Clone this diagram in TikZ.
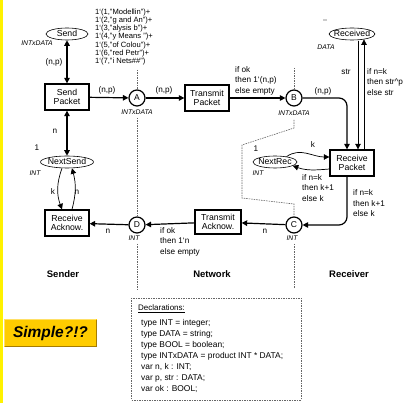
\documentclass[tikz,border=0pt]{standalone}
\usepackage{fontspec}
\setmainfont{Liberation Sans}
\usetikzlibrary{arrows.meta,shapes.geometric,calc}
\newcommand{\fsz}[2]{\fontsize{#1}{#2}\selectfont}
\definecolor{gold}{HTML}{FFCC00}
\definecolor{goldlight}{HTML}{FFE066}
\definecolor{golddark}{HTML}{A67C00}
\tikzset{
  trans/.style={draw, line width=1.3pt, minimum width=44pt, minimum height=26pt, inner sep=1pt, align=center, font=\fsz{8.7}{9.7}},
  place/.style={circle, draw, line width=1.2pt, minimum size=16pt, inner sep=0pt, font=\fsz{8.5}{9}},
  oval/.style={ellipse, draw, line width=0.6pt, inner sep=0pt, minimum height=12pt, text height=5pt, text depth=0pt, font=\fsz{8.7}{9.7}},
  arc/.style={line width=1.2pt, -{Triangle[length=5.5pt,width=5.5pt]}},
  darc/.style={line width=1.2pt, {Triangle[length=5.5pt,width=5.5pt]}-{Triangle[length=5.5pt,width=5.5pt]}},
  tarc/.style={line width=0.7pt, -{Triangle[length=5.5pt,width=5.5pt]}},
  lbl/.style={font=\fsz{8.2}{10.5}, inner sep=0pt, align=left},
  typ/.style={font=\itshape\fsz{6.8}{7.5}, inner sep=0pt},
  divider/.style={gray!80!black, line width=0.6pt, dash pattern=on 1.5pt off 1pt},
  sect/.style={font=\bfseries\fsz{9.5}{10.5}, inner sep=0pt},
}
\begin{document}
\begin{tikzpicture}[x=1pt,y=-1pt]
\useasboundingbox (0,0) rectangle (416,403);
\fill[white] (0,0) rectangle (416,403);
\fill[yellow] (0,0) rectangle (3,403);

% places and transitions
\node[oval, minimum width=42pt] (Send) at (67,34) {\makebox[10pt]{Send}};
\node[trans] (SendP) at (67,97) {Send\\Packet};
\node[place] (A) at (137,98) {A};
\node[trans] (TransP) at (207,98) {Transmit\\Packet};
\node[place] (B) at (294,98) {B};
\node[oval, minimum width=46pt] (Received) at (352,34) {\makebox[10pt]{Received}};
\node[trans] (RecP) at (352,163) {Receive\\Packet};
\node[oval, minimum width=44pt] (NextRec) at (275,162) {\makebox[10pt]{NextRec}};
\node[place] (C) at (294,225) {C};
\node[trans, minimum width=46pt, minimum height=24pt] (TransA) at (218,222) {Transmit\\Acknow.};
\node[place] (D) at (137,225) {D};
\node[trans] (RecA) at (67,223) {Receive\\Acknow.};
\node[oval, minimum width=53pt] (NextSend) at (67,162) {\makebox[10pt]{NextSend}};

% connectors
\draw[darc] (Send) -- (SendP);
\draw[arc] (SendP) -- (A);
\draw[arc] (A) -- (TransP);
\draw[arc] (TransP) -- (B);
\draw[arc, rounded corners=8pt] (B.east) -| ([xshift=-5pt]RecP.north);
\draw[tarc] ([xshift=6pt,yshift=-0.3pt]Received.south) -- ([xshift=6pt]RecP.north);
\draw[tarc] ([xshift=12pt]RecP.north) -- ([xshift=12pt,yshift=0.9pt]Received.south);
\draw[tarc] (NextRec.25) to[out=35,in=180] ([yshift=6pt]RecP.west);
\draw[tarc] ([yshift=-6pt]RecP.west) to[out=185,in=-20] (NextRec.-12);
\draw[arc, rounded corners=8pt] ([xshift=-5pt]RecP.south) |- (C.east);
\draw[arc] (C) -- (TransA);
\draw[arc] (TransA) -- (D);
\draw[arc] (D) -- (RecA);
\draw[darc] (SendP) -- (NextSend);
\draw[tarc] ([xshift=-5pt]NextSend.south) to[out=250,in=110] ([xshift=-5pt]RecA.north);
\draw[tarc] ([xshift=5pt]RecA.north) to[out=75,in=-75] ([xshift=5pt]NextSend.south);

% dividers
\draw[divider] (137,70) -- (A.north);
\draw[divider] (137,118) -- (D.north);
\draw[divider] (137,244) -- (137,291);
\draw[divider] (294,68) -- (B.north);
\draw[divider] (294,120) -- (294,128) -- (242,145) -- (242,198) -- (294,204) -- (C.north);
\draw[divider] (294,244) -- (294,288);

% inscriptions
\node[lbl, anchor=west, font=\fsz{7.6}{8.3}] at (95,37) {1`(1,"Modellin")+\\1`(2,"g and An")+\\1`(3,"alysis b")+\\1`(4,"y Means ")+\\1`(5,"of Colou")+\\1`(6,"red Petr")+\\1`(7,"i Nets\#\#")};
\node[typ] at (37,43) {INTxDATA};
\node[lbl] at (54,62) {(n,p)};
\node[lbl] at (55,131) {n};
\node[lbl] at (107,90) {(n,p)};
\node[typ] at (137,112) {INTxDATA};
\node[lbl] at (164,90) {(n,p)};
\node[lbl, anchor=west] at (235,80.5) {if ok\\then 1`(n,p)\\else empty};
\node[lbl] at (323,91) {(n,p)};
\node[typ] at (294,113) {INTxDATA};
\node[lbl, font=\fsz{5}{6}] at (325,22) {""};
\node[typ] at (326,47) {DATA};
\node[lbl] at (346,72) {str};
\node[lbl, anchor=west] at (367,82) {if n=k\\then str\textasciicircum p\\else str};
\node[lbl] at (256,149) {1};
\node[typ] at (258,173) {INT};
\node[lbl] at (313,145) {k};
\node[lbl, anchor=west] at (302,188) {if n=k\\then k+1\\else k};
\node[lbl, anchor=west] at (353,203.5) {if n=k\\then k+1\\else k};
\node[lbl] at (265,231) {n};
\node[typ] at (292,238) {INT};
\node[lbl, anchor=west] at (160,241.5) {if ok\\then 1`n\\else empty};
\node[typ] at (134,238) {INT};
\node[lbl] at (108,231) {n};
\node[lbl] at (37,148) {1};
\node[typ] at (35,173) {INT};
\node[lbl] at (53,192) {k};
\node[lbl] at (77,192) {n};

% section titles
\node[sect] at (63,274) {Sender};
\node[sect] at (212,274) {Network};
\node[sect] at (349,274) {Receiver};

% declarations
\draw[divider] (131,298) rectangle (301,400);
\node[lbl, anchor=west, font=\fsz{8}{9}] at (138,309) {\underline{Declarations:}};
\node[lbl, anchor=west, font=\fsz{8.4}{11}] at (141,356) {type INT = integer;\\type DATA = string;\\type BOOL = boolean;\\type INTxDATA = product INT * DATA;\\var n, k : INT;\\var p, str : DATA;\\var ok : BOOL;};

% Simple?!? button
\fill[gold] (4,319) rectangle (97,347);
\draw[goldlight, line width=1.2pt] (4.6,346.4) -- (4.6,319.6) -- (96.4,319.6);
\draw[golddark, line width=1.2pt] (4.6,346.4) -- (96.4,346.4) -- (96.4,319.6);
\node[font=\bfseries\itshape\fsz{15.5}{17}, inner sep=0pt] (simple) at (50.5,333) {Simple?!?};
\end{tikzpicture}
\end{document}
